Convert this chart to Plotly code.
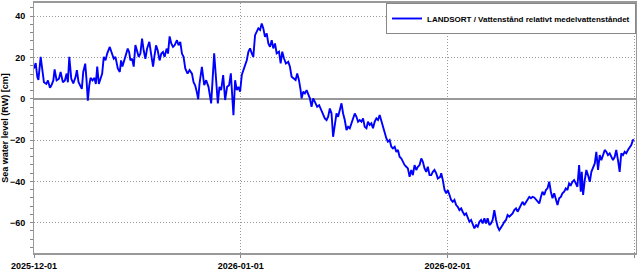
import pandas as pd
import plotly.graph_objects as go

# Sea level readings: offsets in days from 2025-12-01 00:00 and values in cm
day_offset = [
    0.0, 0.25, 0.5, 0.66, 1.0, 1.26, 1.49, 1.85, 2.09, 2.39, 2.6, 2.9, 3.09, 3.39, 3.74, 3.99,
    4.33, 4.63, 4.89, 5.08, 5.29, 5.59, 5.89, 6.23, 6.43, 6.68, 6.98, 7.17, 7.38, 7.68, 7.88,
    8.07, 8.28, 8.48, 8.77, 9.07, 9.27, 9.48, 9.72, 9.97, 10.22, 10.46, 10.72, 10.97, 11.36,
    11.61, 11.96, 12.21, 12.56, 12.86, 13.06, 13.26, 13.56, 13.81, 14.05, 14.26, 14.45, 14.71,
    14.95, 15.2, 15.46, 15.7, 15.95, 16.2, 16.44, 16.7, 16.95, 17.29, 17.55, 17.85, 18.04,
    18.3, 18.54, 18.83, 19.09, 19.34, 19.58, 19.88, 20.09, 20.33, 20.58, 20.84, 21.08, 21.43,
    21.67, 21.93, 22.18, 22.42, 22.68, 23.02, 23.32, 23.68, 23.92, 24.17, 24.42, 24.62,
    24.81, 25.17, 25.52, 25.81, 26.16, 26.56, 27.01, 27.31, 27.56, 27.8, 28.06, 28.36, 28.65,
    28.95, 29.25, 29.51, 29.75, 29.9, 30.15, 30.4, 30.64, 30.9, 31.15, 31.39, 31.64, 31.9,
    32.14, 32.39, 32.65, 32.88, 33.14, 33.39, 33.63, 33.89, 34.14, 34.38, 34.63, 34.89,
    35.13, 35.38, 35.64, 35.87, 36.13, 36.38, 36.73, 36.98, 37.22, 37.47, 37.77, 38.12,
    38.37, 38.62, 38.86, 39.22, 39.46, 39.72, 39.97, 40.12, 40.36, 40.61, 40.87, 41.11,
    41.36, 41.61, 41.85, 42.11, 42.45, 42.75, 42.96, 43.26, 43.6, 43.86, 44.1, 44.35, 44.6,
    44.84, 45.1, 45.35, 45.59, 45.84, 46.1, 46.34, 46.59, 46.85, 47.09, 47.34, 47.59, 47.83,
    48.09, 48.34, 48.58, 48.83, 49.09, 49.33, 49.58, 49.84, 50.07, 50.33, 50.58, 50.82,
    51.08, 51.33, 51.57, 51.82, 52.08, 52.32, 52.57, 52.83, 53.06, 53.32, 53.57, 53.81,
    54.07, 54.32, 54.56, 54.81, 55.07, 55.31, 55.56, 55.81, 56.05, 56.31, 56.56, 56.8,
    57.05, 57.31, 57.55, 57.8, 58.06, 58.3, 58.55, 58.8, 59.04, 59.3, 59.55, 59.79, 60.04,
    60.3, 60.54, 60.9, 61.05, 61.29, 61.55, 61.8, 62.03, 62.29, 62.54, 62.78, 63.03, 63.29,
    63.53, 63.78, 64.04, 64.27, 64.53, 64.78, 65.02, 65.28, 65.53, 65.77, 66.02, 66.28,
    66.52, 66.77, 67.03, 67.26, 67.52, 67.77, 68.01, 68.27, 68.52, 68.76, 69.01, 69.27,
    69.51, 69.76, 70.01, 70.25, 70.51, 70.76, 71.0, 71.26, 71.51, 71.75, 72.0, 72.26, 72.5,
    72.75, 73.0, 73.24, 73.5, 73.75, 73.99, 74.25, 74.5, 74.74, 74.99, 75.25, 75.49, 75.75,
    76.0, 76.23, 76.49, 76.74, 76.98, 77.24, 77.49, 77.73, 77.99, 78.24, 78.48, 78.73,
    78.98, 79.22, 79.48, 79.73, 79.97, 80.22, 80.48, 80.72, 80.97, 81.23, 81.46, 81.72,
    81.97, 82.12, 82.32, 82.57, 82.81, 83.06, 83.32, 83.56, 83.81, 84.07, 84.3, 84.56,
    84.81, 85.05, 85.31, 85.56, 85.8, 86.05, 86.31, 86.55, 86.8, 87.06, 87.29, 87.55, 87.8,
    88.04, 88.3, 88.55, 88.79, 89.04, 89.3, 89.54, 89.79, 89.94,
]
sea_level_cm = [
    14.7, 17.3, 10.5, 9.2, 20.3, 14.7, 8.0, 7.2, 8.9, 5.3, 6.4, 8.9, 14.2, 8.9, 9.7, 13.0,
    8.0, 8.9, 12.2, 8.0, 20.3, 9.7, 7.5, 10.5, 13.9, 8.0, 6.4, 4.8, 13.0, 17.0, 8.9,
    -0.9, 6.4, 10.1, 8.9, 10.1, 7.2, 15.6, 7.2, 9.7, 12.2, 20.3, 18.6, 21.9, 25.1,
    22.7, 19.4, 20.3, 14.7, 13.0, 18.6, 15.6, 19.4, 21.9, 24.3, 22.7, 18.6, 19.4,
    15.6, 26.0, 22.7, 20.3, 21.9, 29.2, 23.5, 19.4, 24.3, 27.6, 21.9, 15.6, 20.3,
    25.9, 23.5, 18.6, 21.9, 22.7, 20.3, 24.3, 21.9, 30.2, 26.8, 25.1, 25.9, 28.4,
    25.9, 27.6, 21.9, 20.3, 14.7, 12.2, 13.9, 12.2, 8.0, 6.4, 3.1, -0.2,
    7.2, 15.5, 6.6, 9.0, 5.8, -2.2, 22.0, 7.4, -2.2, 5.8, 4.2, 11.5, -0.6,
    5.8, 6.6, 12.3, 1.0, -7.9, 9.0, 4.2, 5.8, 3.4, 11.5, 13.9, 16.3, 18.7,
    22.8, 24.4, 22.0, 20.3, 30.8, 32.4, 34.1, 33.3, 36.5, 34.1, 30.0, 31.7,
    26.8, 25.2, 28.4, 24.4, 26.8, 22.0, 22.8, 17.1, 22.8, 19.6, 17.1, 17.9,
    15.5, 10.7, 9.9, 9.1, 12.3, 9.0, 4.2, 0.2, 3.4, 2.6, 4.2, 2.6,
    0.2, -3.9, 0.2, -1.5, -3.9, -3.1, -4.7, -7.1, -9.5, -10.3, -8.7, -4.7, -7.0,
    -18.4, -12.5, -7.1, -8.7, -5.5, -2.2, -7.1, -10.3, -15.2, -13.6, -14.3, -11.9, -10.3,
    -7.1, -8.7, -11.1, -10.3, -11.1, -9.5, -13.6, -14.3, -11.1, -12.7, -11.9, -14.3,
    -11.1, -9.5, -10.3, -7.9, -11.1, -13.6, -16.8, -19.2, -20.8, -20.0, -23.2, -24.0,
    -23.2, -25.7, -24.8, -28.1, -28.9, -30.5, -32.1, -32.9, -33.7, -37.8, -34.5, -37.0,
    -32.1, -34.5, -32.9, -32.1, -28.9, -30.5, -33.7, -35.4, -32.9, -37.0, -37.0, -35.4, -34.5,
    -36.1, -38.6, -37.8, -36.1, -39.4, -44.2, -45.8, -44.2, -46.6, -49.0, -49.9, -49.0, -51.5,
    -52.3, -53.9, -53.1, -54.7, -56.3, -55.5, -57.1, -59.6, -58.7, -61.2, -62.8, -61.2,
    -62.0, -59.6, -58.7, -60.4, -57.9, -60.4, -57.9, -61.2, -60.4, -58.7, -53.9, -58.7,
    -62.0, -63.6, -62.0, -61.2, -59.6, -58.7, -56.3, -57.1, -56.3, -55.5, -53.9, -53.1, -54.7,
    -53.1, -50.7, -49.9, -51.5, -49.9, -49.0, -47.5, -48.2, -47.5, -47.8, -49.0, -49.5, -50.7,
    -47.5, -45.0, -46.6, -44.2, -43.4, -40.2, -45.0, -48.2, -45.8, -49.0, -51.5, -48.2,
    -47.5, -45.8, -45.0, -43.4, -44.2, -41.0, -41.8, -40.2, -39.4, -41.0, -42.6, -32.1,
    -45.0, -35.4, -46.6, -39.4, -34.5, -37.0, -40.2, -35.4, -33.7, -31.3, -25.7, -34.5,
    -27.3, -29.7, -27.3, -24.8, -25.7, -27.3, -26.4, -28.1, -29.7, -28.1, -24.8, -29.7, -35.4,
    -26.4, -27.3, -25.7, -26.4, -24.8, -23.2, -22.4, -20.0, -19.7,
]
series_name = "LANDSORT / Vattenstånd relativt medelvattenståndet"
y_title = "Sea water level (RW) [cm]"
x_tick_vals = ["2025-12-01", "2026-01-01", "2026-02-01", "2026-03-01"]
y_tick_vals = [-60, -40, -20, 0, 20, 40]

start = pd.Timestamp("2025-12-01")
times = [start + pd.Timedelta(days=d) for d in day_offset]

FONT = "Liberation Sans, Arial, sans-serif"
tick_font = dict(family=FONT, size=9, color="black", weight="bold")
GRID_DASH = "1px,2px"

fig = go.Figure()
fig.add_trace(go.Scatter(
    x=times, y=sea_level_cm, mode="lines", name=series_name,
    line=dict(color="#0000ff", width=1.9),
))

fig.update_layout(
    width=638, height=274,
    margin=dict(l=33, r=1, t=3, b=21),
    paper_bgcolor="white", plot_bgcolor="white",
    font=dict(family=FONT, size=9, color="black"),
    showlegend=True,
    legend=dict(
        x=1, y=1, xanchor="right", yanchor="top",
        bgcolor="white", bordercolor="#888888", borderwidth=1,
        font=dict(family=FONT, size=8, color="black", weight="bold"),
        itemwidth=30, tracegroupgap=0,
    ),
)

fig.update_xaxes(
    type="date",
    range=[start, start + pd.Timedelta(days=90.25)],
    tickvals=x_tick_vals, ticktext=x_tick_vals,
    tickfont=tick_font,
    ticks="outside", ticklen=3, tickcolor="#888888",
    showgrid=True, gridcolor="#999999", griddash=GRID_DASH, gridwidth=1,
    showline=True, linecolor="#999999", linewidth=2, mirror=True,
    zeroline=False,
)
fig.update_yaxes(
    range=[-74.7, 46.4],
    tickvals=y_tick_vals,
    tickfont=tick_font,
    ticks="outside", ticklen=3, tickcolor="#888888", ticklabelstandoff=3,
    minor=dict(dtick=4, tick0=0, ticks="outside", ticklen=3, tickcolor="#888888", showgrid=False),
    showgrid=True, gridcolor="#999999", griddash=GRID_DASH, gridwidth=1,
    zeroline=True, zerolinecolor="#999999", zerolinewidth=2,
    showline=True, linecolor="#999999", linewidth=1, mirror=True,
    title=dict(text=y_title, font=tick_font, standoff=3),
)

fig.write_html("out.html")
